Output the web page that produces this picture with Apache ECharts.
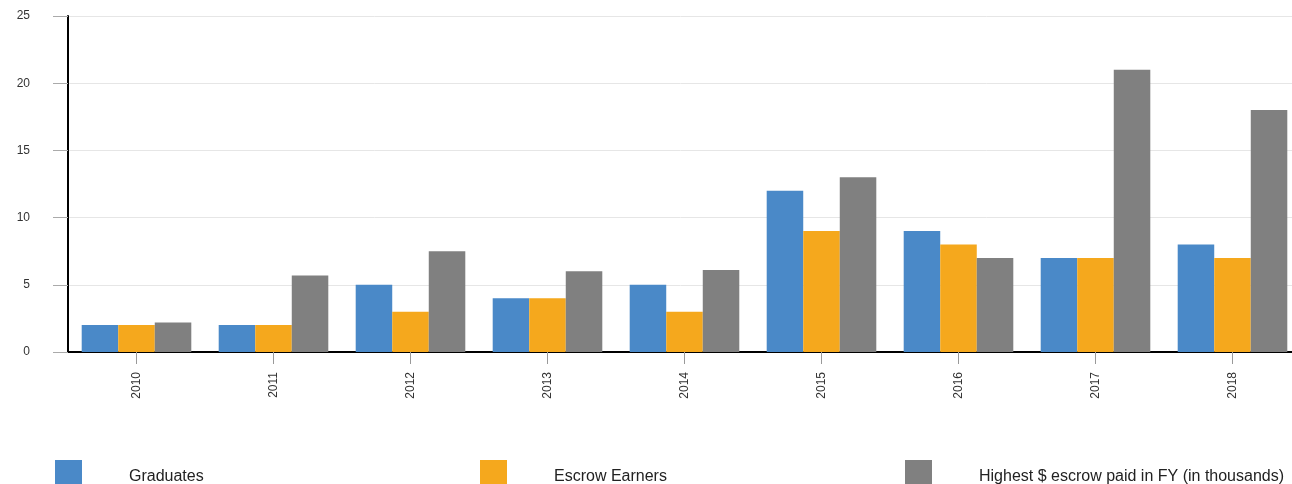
<!DOCTYPE html>
<html>
<head>
<meta charset="utf-8">
<script src="https://cdn.jsdelivr.net/npm/echarts@6/dist/echarts.min.js"></script>
<style>
    html, body { margin: 0; padding: 0; background: #fff; }
    #chart { width: 1292px; height: 484px; }
</style>
</head>
<body>
<div id="chart"></div>
<script>
// 数据
const years = ['2010', '2011', '2012', '2013', '2014', '2015', '2016', '2017', '2018'];
const graduates = [2, 2, 5, 4, 5, 12, 9, 7, 8];
const escrowEarners = [2, 2, 3, 4, 3, 9, 8, 7, 7];
const highestEscrow = [2.2, 5.7, 7.5, 6, 6.1, 13, 7, 21, 18];
const seriesNames = ['Graduates', 'Escrow Earners', 'Highest $ escrow paid in FY (in thousands)'];
const yTicks = [0, 5, 10, 15, 20, 25];

(function () {
    let myChart = echarts.init(document.getElementById('chart'));
    const colors = ['#4a89c8', '#f5a81d', '#808080'];
    const legendLeft = [55, 480, 905];

    let option = {
        animation: false,
        color: colors,
        grid: {
            left: 68,
            width: 1233,  // 右侧最后一组柱子被裁掉一点
            top: 16,
            bottom: 132,
            outerBoundsMode: 'none'
        },
        legend: seriesNames.map(function (name, i) {
            return {
                data: [name],
                left: legendLeft[i],
                top: 460,
                padding: 0,
                icon: 'rect',
                itemWidth: 27,
                itemHeight: 34,  // 图例方块在底部被裁掉
                textStyle: {
                    color: '#222',
                    fontSize: 16,
                    fontFamily: 'Liberation Sans, Arial, sans-serif',
                    padding: [0, 0, 0, 42]
                }
            };
        }),
        xAxis: {
            type: 'category',
            data: years,
            axisLine: {
                lineStyle: { color: '#000', width: 2 }
            },
            axisTick: {
                show: true,
                alignWithLabel: true,
                length: 12,
                lineStyle: { color: '#999' }
            },
            axisLabel: {
                rotate: 90,
                margin: 20,
                color: '#333',
                fontSize: 12,
                fontFamily: 'Liberation Sans, Arial, sans-serif'
            }
        },
        yAxis: {
            type: 'value',
            min: yTicks[0],
            max: yTicks[yTicks.length - 1],
            interval: 5,
            axisLine: {
                show: true,
                lineStyle: { color: '#000', width: 2 }
            },
            axisTick: {
                show: true,
                length: 15,
                lineStyle: { color: '#aaa' }
            },
            axisLabel: {
                margin: 38,
                color: '#333',
                fontSize: 12,
                fontFamily: 'Liberation Sans, Arial, sans-serif'
            },
            splitLine: {
                lineStyle: { color: '#e6e6e6' }
            }
        },
        series: [
            { name: seriesNames[0], type: 'bar', data: graduates, barGap: 0, barCategoryGap: '20%' },
            { name: seriesNames[1], type: 'bar', data: escrowEarners, barGap: 0, barCategoryGap: '20%' },
            { name: seriesNames[2], type: 'bar', data: highestEscrow, barGap: 0, barCategoryGap: '20%' }
        ]
    };
    myChart.setOption(option);
})();
</script>
</body>
</html>
